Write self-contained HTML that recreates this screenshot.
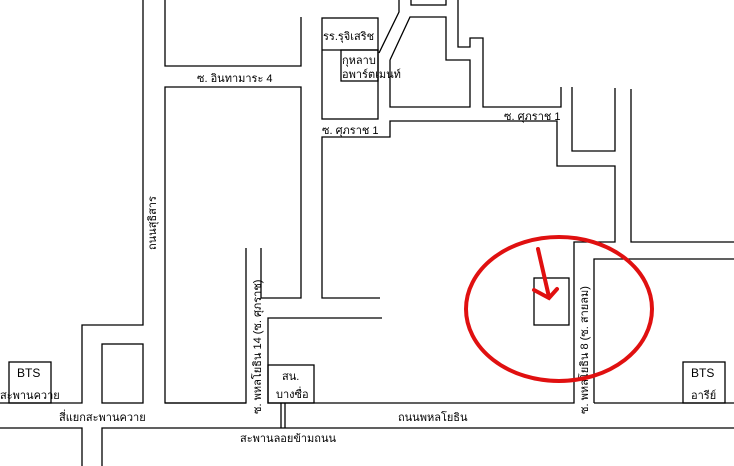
<!DOCTYPE html>
<html><head><meta charset="utf-8"><style>
html,body{margin:0;padding:0;background:#fff;}
svg{display:block;}
text{font-family:"Liberation Sans","DejaVu Sans",sans-serif;font-size:11px;fill:#000;}
</style></head><body>
<svg width="734" height="466" viewBox="0 0 734 466" xmlns="http://www.w3.org/2000/svg">
<g fill="none" stroke="#000" stroke-width="1.3">
<polyline points="143,0 143,325 82,325 82,403 0,403"/>
<polyline points="165,0 165,66 301,66 301,17"/>
<polyline points="246,248 246,403 165,403 165,87 301,87 301,298 261,298 261,248"/>
<rect x="322" y="18" width="56" height="101"/>
<line x1="322" y1="50" x2="378" y2="50"/>
<rect x="341" y="50" width="37" height="31"/>
<polyline points="399,0 399,12 379,53"/>
<rect x="411" y="-2" width="35" height="7"/>
<polyline points="390,60 410,17 446,17 446,60 470,60 470,107 390,107 390,60"/>
<polyline points="458,0 458,47 470,47 470,38 483,38 483,107 561,107 561,87"/>
<polyline points="572,87 572,151 615,151 615,88"/>
<polyline points="631,89 631,242 734,242"/>
<polyline points="380,298 322,298 322,137 390,137 390,121 557,121 557,166 615,166 615,242 574,242 574,403 268,403 268,318 382,318"/>
<polyline points="594,403 594,259 734,259"/>
<line x1="165" y1="403" x2="246" y2="403"/>
<line x1="594" y1="403" x2="734" y2="403"/>
<polyline points="0,428 82,428 82,466"/>
<polyline points="102,466 102,428 734,428"/>
<line x1="281" y1="403" x2="281" y2="428"/>
<line x1="285" y1="403" x2="285" y2="428"/>
<rect x="268" y="365" width="46" height="38"/>
<rect x="9" y="362" width="42" height="41"/>
<rect x="102" y="344" width="41" height="59"/>
<rect x="683" y="362" width="42" height="41"/>
<rect x="534" y="278" width="35" height="47"/>
</g>
<text x="197" y="82">ซ. อินทามาระ 4</text>
<text x="323" y="40">รร.รุจิเสริช</text>
<text x="342" y="64">กุหลาบ</text>
<text x="342" y="78">อพาร์ตเมนท์</text>
<text x="322" y="134">ซ. ศุภราช 1</text>
<text x="504" y="120">ซ. ศุภราช 1</text>
<text transform="translate(156,250) rotate(-90)">ถนนสุธิสาร</text>
<text transform="translate(261,414) rotate(-90)">ซ. พหลโยธิน 14 (ซ. ศุภราช)</text>
<text transform="translate(588,414) rotate(-90)">ซ. พหลโยธิน 8 (ซ. สายลม)</text>
<text x="17" y="377" style="font-size:12px">BTS</text>
<text x="0" y="399">สะพานควาย</text>
<text x="59" y="421">สี่แยกสะพานควาย</text>
<text x="240" y="442">สะพานลอยข้ามถนน</text>
<text x="398" y="421">ถนนพหลโยธิน</text>
<text x="282" y="380">สน.</text>
<text x="276" y="398">บางซื่อ</text>
<text x="691" y="377" style="font-size:12px">BTS</text>
<text x="691" y="399">อารีย์</text>
<g fill="none" stroke="#e01010" stroke-width="4" stroke-linecap="round">
<ellipse cx="559" cy="309" rx="93" ry="72"/>
<line x1="538" y1="249" x2="549" y2="297"/>
<polyline points="534,290 549,298 557,289"/>
</g>
</svg>
</body></html>
